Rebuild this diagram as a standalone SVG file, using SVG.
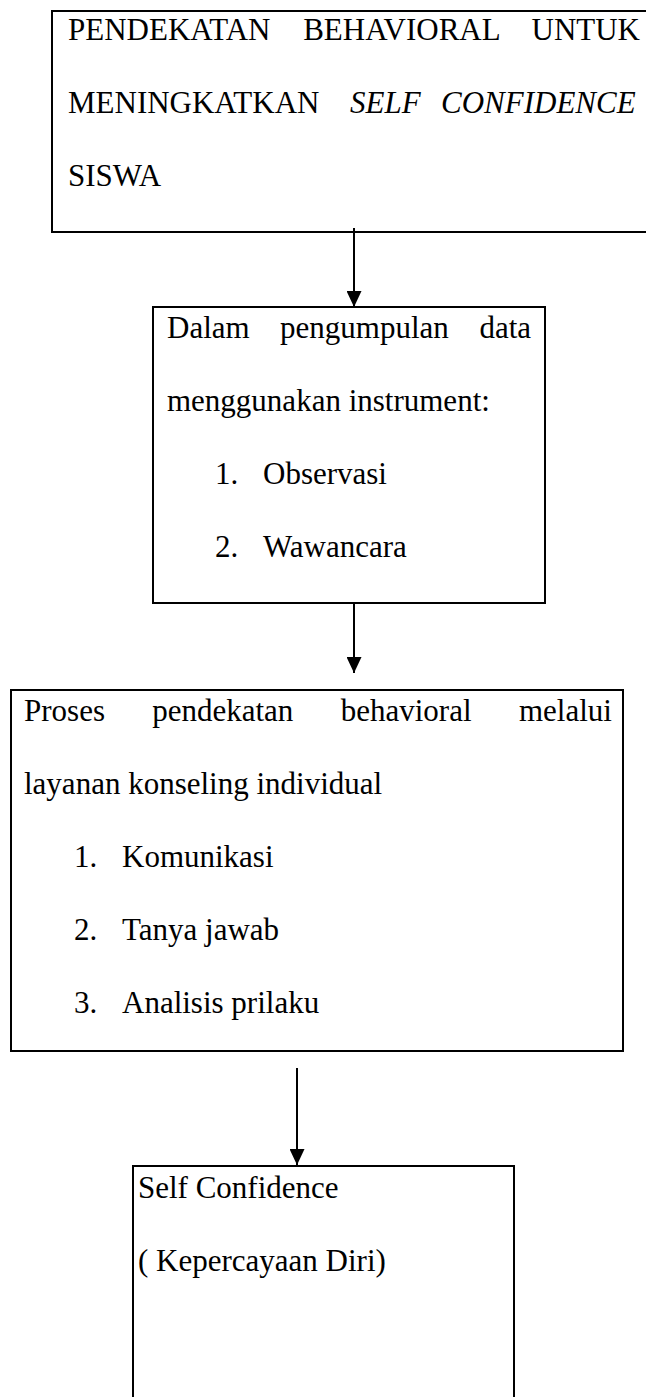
<svg xmlns="http://www.w3.org/2000/svg" width="646" height="1397" viewBox="0 0 646 1397">
<style>
.box{fill:#fff;stroke:#000;stroke-width:2}
.t{font-family:"Liberation Serif","Times New Roman",serif;font-size:31px;fill:#000}
.i{font-style:italic}
.c{stroke:#000;stroke-width:2;fill:none}
</style>
<defs>
<marker id="ah" markerWidth="16" markerHeight="15" refX="16" refY="7.5" orient="auto" markerUnits="userSpaceOnUse" viewBox="0 0 16 15">
<path d="M0,0 L16,7.5 L0,15 Z" fill="#000"/>
</marker>
</defs>
<rect width="646" height="1397" fill="#fff"/>
<g id="node1">
<rect class="box" x="52" y="11" width="620" height="221"/>
<text class="t" y="40"><tspan x="68">PENDEKATAN</tspan><tspan x="303.2">BEHAVIORAL</tspan><tspan x="531.5">UNTUK</tspan></text>
<text class="t" y="113"><tspan x="68">MENINGKATKAN</tspan><tspan class="i" x="350">SELF</tspan><tspan class="i" x="441">CONFIDENCE</tspan></text>
<text class="t" x="68" y="186">SISWA</text>
</g>
<g id="node2">
<rect class="box" x="153" y="307" width="392" height="296"/>
<text class="t" y="338"><tspan x="167">Dalam</tspan><tspan x="280.1">pengumpulan</tspan><tspan x="479.4">data</tspan></text>
<text class="t" x="167" y="411">menggunakan instrument:</text>
<text class="t" x="215" y="484">1.</text><text class="t" x="263" y="484">Observasi</text>
<text class="t" x="215" y="557">2.</text><text class="t" x="263" y="557">Wawancara</text>
</g>
<g id="node3">
<rect class="box" x="11" y="690" width="612" height="361"/>
<text class="t" y="721"><tspan x="24">Proses</tspan><tspan x="152.2">pendekatan</tspan><tspan x="340.7">behavioral</tspan><tspan x="519">melalui</tspan></text>
<text class="t" x="24" y="794">layanan konseling individual</text>
<text class="t" x="74" y="867">1.</text><text class="t" x="122" y="867">Komunikasi</text>
<text class="t" x="74" y="940">2.</text><text class="t" x="122" y="940">Tanya jawab</text>
<text class="t" x="74" y="1013">3.</text><text class="t" x="122" y="1013">Analisis prilaku</text>
</g>
<g id="node4">
<rect class="box" x="133" y="1166" width="381" height="260"/>
<text class="t" x="138" y="1198">Self Confidence</text>
<text class="t" x="138" y="1271">( Kepercayaan Diri)</text>
</g>
<g id="connectors">
<line class="c" x1="354" y1="228" x2="354" y2="307" marker-end="url(#ah)"/>
<line class="c" x1="354" y1="603" x2="354" y2="673" marker-end="url(#ah)"/>
<line class="c" x1="297" y1="1068" x2="297" y2="1165" marker-end="url(#ah)"/>
</g>
</svg>
